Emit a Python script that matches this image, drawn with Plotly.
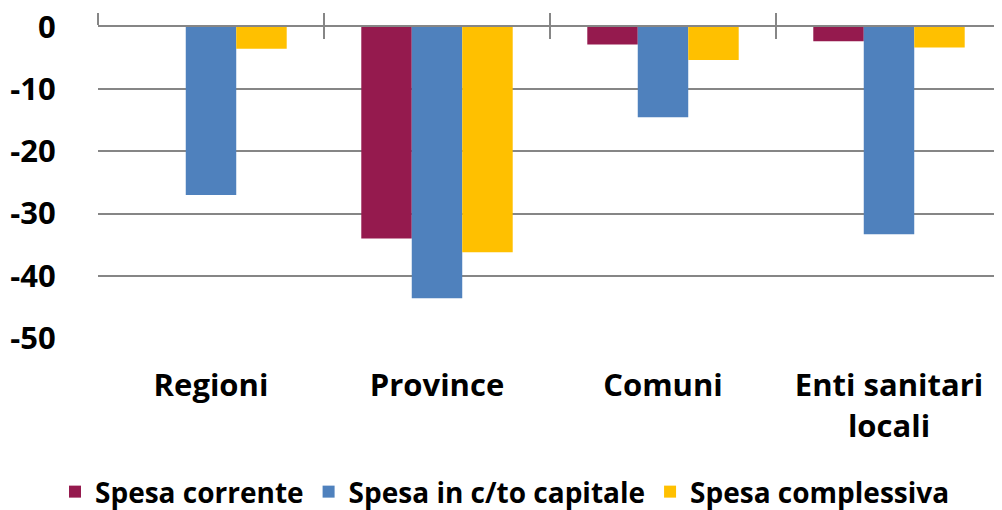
import plotly.graph_objects as go

categories = ["Regioni", "Province", "Comuni", "Enti sanitari<br>locali"]
series_names = ["Spesa corrente", "Spesa in c/to capitale", "Spesa complessiva"]
spesa_corrente = [0.0, -34.0, -2.8, -2.3]
spesa_capitale = [-27.0, -43.6, -14.5, -33.3]
spesa_complessiva = [-3.5, -36.2, -5.3, -3.3]
y_ticks = [0, -10, -20, -30, -40, -50]
colors = ["#951A4E", "#4F81BD", "#FFC000"]

FONT = "Open Sans"
fig = go.Figure()
for name, vals, col in zip(series_names, [spesa_corrente, spesa_capitale, spesa_complessiva], colors):
    fig.add_trace(go.Bar(x=categories, y=vals, name=name, marker=dict(color=col, line=dict(width=0))))

axis_common = dict(range=[-0.5, 3.5], tickvals=[-0.5, 0.5, 1.5, 2.5, 3.5], showticklabels=False,
                   showgrid=False, zeroline=False, overlaying="x", anchor="y", side="top",
                   ticklen=12, tickwidth=2, tickcolor="#868686", showline=True, linecolor="#868686", linewidth=2,
                   automargin=False)

fig.update_layout(
    width=994, height=502,
    margin=dict(l=90, r=0, t=19, b=172),
    paper_bgcolor="white", plot_bgcolor="white",
    barmode="group", bargap=0.33, bargroupgap=0,
    font=dict(family=FONT, color="black"),
    xaxis=dict(type="category", showline=False, showgrid=False, zeroline=False, automargin=False,
               ticks="outside", ticklen=20, tickcolor="rgba(0,0,0,0)",
               tickfont=dict(family=FONT, size=31, color="black", weight="bold")),
    xaxis2=dict(ticks="outside", **axis_common),
    xaxis3=dict(ticks="inside", **axis_common),
    yaxis=dict(range=[-50, 0.001], tickvals=y_ticks, ticktext=[str(v) for v in y_ticks], automargin=False,
               ticklabeloverflow="allow",
               showgrid=True, gridcolor="#868686", gridwidth=2, zeroline=False, showline=False,
               ticks="outside", ticklen=35, tickcolor="rgba(0,0,0,0)",
               tickfont=dict(family=FONT, size=31, color="black", weight="bold")),
    legend=dict(orientation="h", xref="container", yref="container", x=0.5, xanchor="center",
                y=0.036, yanchor="middle", font=dict(family=FONT, size=28, color="black", weight="bold"),
                itemwidth=30, tracegroupgap=0),
    showlegend=True,
)
fig.add_trace(go.Scatter(x=[None], y=[None], xaxis="x2", yaxis="y", showlegend=False, hoverinfo="skip"))
fig.add_trace(go.Scatter(x=[None], y=[None], xaxis="x3", yaxis="y", showlegend=False, hoverinfo="skip"))

fig.write_html("out.html")
